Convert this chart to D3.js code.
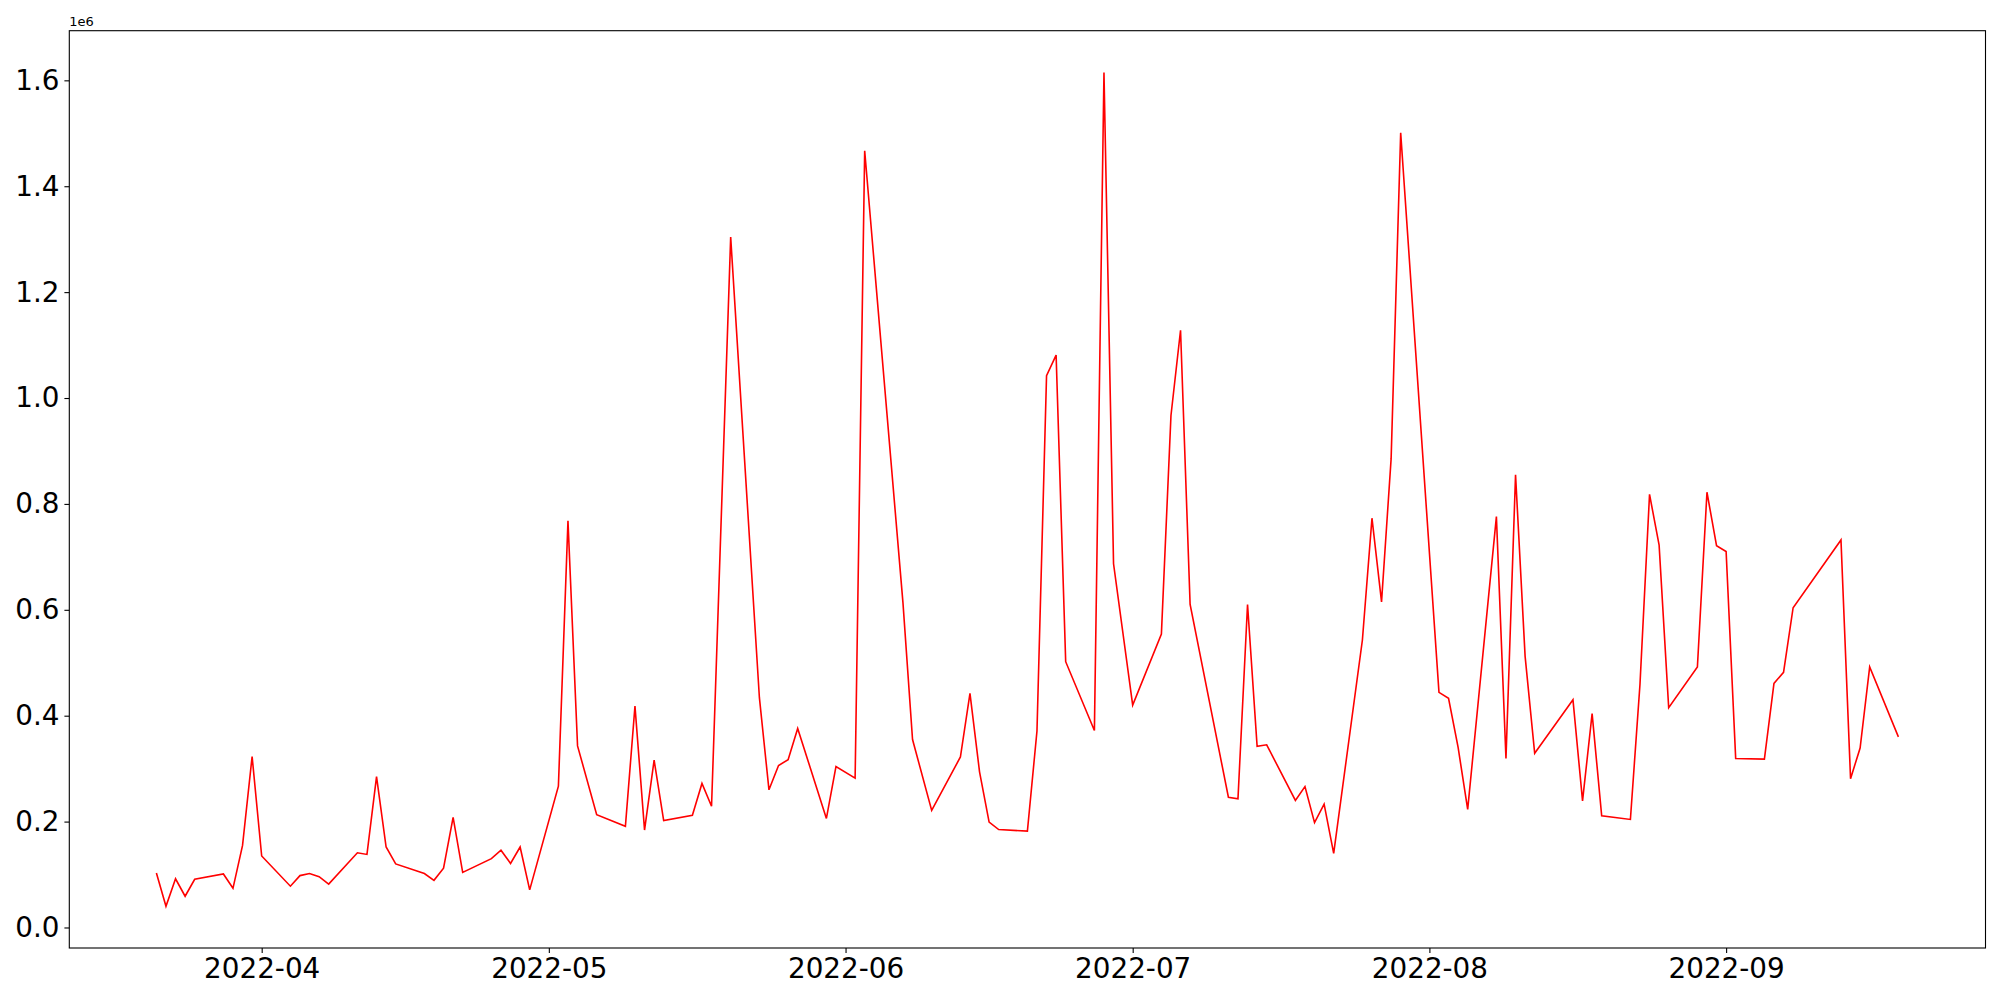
<!DOCTYPE html>
<html>
<head>
  <meta charset="utf-8">
  <title>Serie diaria</title>
  <script src="https://d3js.org/d3.v7.min.js"></script>
  <style>
body { margin: 0; background: #fff; }
.linea { fill: none; stroke: red; stroke-width: 1.6; }
.eje text { font-family: "DejaVu Sans", sans-serif; font-size: 27.8px; fill: #000; }
.eje line { stroke: #000; stroke-width: 1.1; }
  </style>
</head>
<body>
<div id="grafico"></div>
<script>
var fechas = ["2022-03-21","2022-03-22","2022-03-23","2022-03-24","2022-03-25",
  "2022-03-28","2022-03-29","2022-03-30","2022-03-31","2022-04-01",
  "2022-04-04","2022-04-05","2022-04-06","2022-04-07","2022-04-08",
  "2022-04-11","2022-04-12","2022-04-13","2022-04-14","2022-04-15",
  "2022-04-18","2022-04-19","2022-04-20","2022-04-21","2022-04-22",
  "2022-04-25","2022-04-26","2022-04-27","2022-04-28","2022-04-29",
  "2022-05-02","2022-05-03","2022-05-04","2022-05-06",
  "2022-05-09","2022-05-10","2022-05-11","2022-05-12","2022-05-13",
  "2022-05-16","2022-05-17","2022-05-18","2022-05-20",
  "2022-05-23","2022-05-24","2022-05-25","2022-05-26","2022-05-27",
  "2022-05-30","2022-05-31","2022-06-02","2022-06-03",
  "2022-06-07","2022-06-08","2022-06-10",
  "2022-06-13","2022-06-14","2022-06-15","2022-06-16","2022-06-17",
  "2022-06-20","2022-06-21","2022-06-22","2022-06-23","2022-06-24",
  "2022-06-27","2022-06-28","2022-06-29","2022-07-01",
  "2022-07-04","2022-07-05","2022-07-06","2022-07-07",
  "2022-07-11","2022-07-12","2022-07-13","2022-07-14","2022-07-15",
  "2022-07-18","2022-07-19","2022-07-20","2022-07-21","2022-07-22",
  "2022-07-25","2022-07-26","2022-07-27","2022-07-28","2022-07-29",
  "2022-08-02","2022-08-03","2022-08-04","2022-08-05",
  "2022-08-08","2022-08-09","2022-08-10","2022-08-11","2022-08-12",
  "2022-08-16","2022-08-17","2022-08-18","2022-08-19",
  "2022-08-22","2022-08-23","2022-08-24","2022-08-25","2022-08-26",
  "2022-08-29","2022-08-30","2022-08-31","2022-09-01","2022-09-02",
  "2022-09-05","2022-09-06","2022-09-07","2022-09-08",
  "2022-09-13","2022-09-14","2022-09-15","2022-09-16",
  "2022-09-19"];
var valores = [103000,40000,92000,59000,91000,
  101000,74000,155000,323000,135000,
  78000,98000,102000,96000,82000,
  141000,138000,285000,152000,120000,
  102000,89000,112000,208000,104000,
  130000,146000,121000,152000,71000,
  267000,768000,343000,213000,
  191000,418000,184000,316000,202000,
  212000,272000,229000,1304000,
  434000,260000,306000,317000,376000,
  206000,304000,282000,1467000,
  613000,355000,221000,
  322000,442000,294000,199000,185000,
  182000,371000,1042000,1081000,502000,
  372000,1615000,687000,420000,
  554000,967000,1128000,610000,
  246000,243000,610000,342000,345000,
  240000,266000,198000,233000,140000,
  543000,773000,615000,885000,1501000,
  444000,433000,340000,223000,
  776000,319000,855000,512000,329000,
  430000,239000,404000,211000,
  204000,459000,818000,722000,415000,
  492000,822000,721000,710000,319000,
  318000,461000,482000,604000,
  732000,281000,339000,492000,
  360000];
var ticksY = [0, 200000, 400000, 600000, 800000, 1000000, 1200000, 1400000, 1600000];
var etiquetaEscala = "1e6";

var w = 2000, h = 1000;
var izq = 69.3, der = 1985.5, arriba = 30.7, abajo = 948;

var parse = d3.utcParse("%Y-%m-%d");
var datos = fechas.map((f, i) => ({fecha: parse(f), valor: valores[i]}));

var svg = d3.select("div#grafico").append("svg")
  .attr("width", w)
  .attr("height", h);

// margenes de 5% como matplotlib
var ext = d3.extent(datos, d => d.fecha);
var pad = (ext[1] - ext[0]) * 0.05;
var x = d3.scaleUtc()
  .domain([new Date(+ext[0] - pad), new Date(+ext[1] + pad)])
  .range([izq, der]);
var extV = d3.extent(datos, d => d.valor);
var padV = (extV[1] - extV[0]) * 0.05;
var y = d3.scaleLinear()
  .domain([extV[0] - padV, extV[1] + padV])
  .range([abajo, arriba]);

svg.append("path")
  .datum(datos)
  .attr("class", "linea")
  .attr("stroke-linejoin", "miter")
  .attr("d", d3.line().x(d => x(d.fecha)).y(d => y(d.valor)));

var ejeX = svg.append("g")
  .attr("class", "eje")
  .attr("transform", "translate(0," + abajo + ")")
  .call(d3.axisBottom(x)
    .ticks(d3.utcMonth.every(1))
    .tickFormat(d3.utcFormat("%Y-%m"))
    .tickSize(4.9).tickPadding(4.9));
ejeX.select(".domain").remove();

var ejeY = svg.append("g")
  .attr("class", "eje")
  .attr("transform", "translate(" + izq + ",0)")
  .call(d3.axisLeft(y)
    .tickValues(ticksY)
    .tickFormat(v => (v / 1e6).toFixed(1))
    .tickSize(4.9).tickPadding(4.9));
ejeY.select(".domain").remove();

svg.append("rect")
  .attr("x", izq).attr("y", arriba)
  .attr("width", der - izq).attr("height", abajo - arriba)
  .attr("fill", "none")
  .attr("stroke", "#000")
  .attr("stroke-width", 1.1);

svg.append("text")
  .attr("x", izq)
  .attr("y", arriba - 5)
  .attr("font-family", "DejaVu Sans, sans-serif")
  .attr("font-size", "13px")
  .text(etiquetaEscala);
</script>
</body>
</html>
